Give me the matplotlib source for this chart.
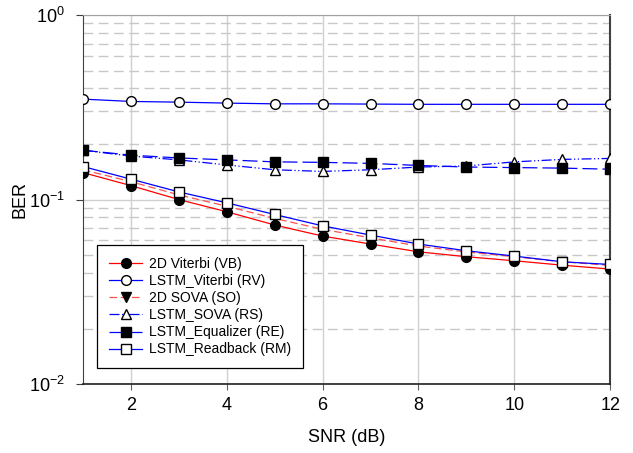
import numpy as np
import matplotlib
matplotlib.use("Agg")
import matplotlib.pyplot as plt
from matplotlib.ticker import LogLocator, NullFormatter, FixedLocator

plt.rcParams["font.family"] = ["Liberation Sans", "DejaVu Sans"]
plt.rcParams["mathtext.fontset"] = "custom"
plt.rcParams["mathtext.rm"] = "Liberation Sans"
plt.rcParams["mathtext.it"] = "Liberation Sans:italic"
plt.rcParams["mathtext.bf"] = "Liberation Sans:bold"

snr = [1, 2, 3, 4, 5, 6, 7, 8, 9, 10, 11, 12]
ber_vb = [0.140, 0.119, 0.100, 0.0859, 0.0728, 0.0634, 0.0574, 0.0521, 0.0490, 0.0466, 0.0441, 0.0420]
ber_rv = [0.350, 0.340, 0.337, 0.333, 0.330, 0.330, 0.329, 0.328, 0.328, 0.328, 0.328, 0.328]
ber_so = [0.145, 0.125, 0.106, 0.092, 0.079, 0.069, 0.062, 0.056, 0.052, 0.049, 0.046, 0.044]
ber_rs = [0.185, 0.172, 0.164, 0.154, 0.145, 0.142, 0.145, 0.150, 0.152, 0.160, 0.165, 0.167]
ber_re = [0.185, 0.174, 0.168, 0.164, 0.160, 0.159, 0.157, 0.153, 0.150, 0.149, 0.148, 0.146]
ber_rm = [0.151, 0.129, 0.110, 0.096, 0.083, 0.072, 0.0642, 0.0574, 0.0528, 0.0494, 0.0460, 0.0445]

fig = plt.figure(figsize=(6.33, 4.53), dpi=100)
ax = fig.add_axes([0.131, 0.152, 0.833, 0.815])

ms = 7
ax.plot(snr, ber_vb, "-", color="#ff0000", lw=0.9, marker="o", ms=ms,
        mfc="black", mec="black", label="2D Viterbi (VB)", zorder=3)
ax.plot(snr, ber_rv, "-", color="#0000ff", lw=0.9, marker="o", ms=ms,
        mfc="white", mec="black", label="LSTM_Viterbi (RV)", zorder=3)
ax.plot(snr, ber_so, color="#ff5050", lw=0.9, ls=(0, (6, 3)), marker="v", ms=ms,
        mfc="black", mec="black", label="2D SOVA (SO)", zorder=2)
ax.plot(snr, ber_rs, color="#0000ff", lw=0.9, ls=(0, (8, 2, 1, 2, 1, 2)), marker="^",
        ms=ms, mfc="white", mec="black", label="LSTM_SOVA (RS)", zorder=3)
ax.plot(snr, ber_re, color="#0000ff", lw=0.9, ls=(0, (12, 4)), marker="s", ms=ms - 0.5,
        mfc="black", mec="black", label="LSTM_Equalizer (RE)", zorder=3)
ax.plot(snr, ber_rm, "-", color="#0000ff", lw=0.9, marker="s", ms=ms - 0.5,
        mfc="white", mec="black", label="LSTM_Readback (RM)", zorder=3)

ax.set_yscale("log")
ax.set_ylim(1e-2, 1)
ax.set_xlim(1, 12)
ax.xaxis.set_major_locator(FixedLocator([2, 4, 6, 8, 10, 12]))
ax.yaxis.set_major_locator(LogLocator(base=10, numticks=5))
ax.yaxis.set_minor_locator(LogLocator(base=10, subs=np.arange(2, 10), numticks=20))
ax.yaxis.set_minor_formatter(NullFormatter())

ax.grid(True, which="major", axis="both", color="#d0d0d0", lw=1.0, ls="-", zorder=0)
ax.grid(True, which="minor", axis="y", color="#c8c8c8", lw=1.0, ls=(0, (7, 4)), zorder=0)
ax.set_axisbelow(True)

ax.tick_params(axis="x", which="major", direction="out", length=4, labelsize=13, pad=5,
               color="#606060")
ax.tick_params(axis="y", which="major", direction="out", length=5, labelsize=13, pad=8,
               color="#404040")
ax.tick_params(axis="y", which="minor", length=0)

ax.spines["top"].set_color("#a0a0a0")
ax.spines["right"].set_color("#404040")
ax.spines["right"].set_linewidth(1.5)
ax.spines["left"].set_color("#404040")
ax.spines["bottom"].set_color("#202020")
ax.spines["bottom"].set_linewidth(1.2)

ax.set_xlabel("SNR (dB)", fontsize=13, labelpad=11)
ax.set_ylabel("BER", fontsize=13, labelpad=0)

leg = ax.legend(loc="lower left", bbox_to_anchor=(0.027, 0.043), borderaxespad=0,
                fontsize=10, frameon=True, fancybox=False, edgecolor="black",
                framealpha=1, handlelength=2.4, labelspacing=0.22, borderpad=0.85,
                handletextpad=0.5)
leg.get_frame().set_linewidth(0.9)

fig.savefig("out.png", dpi=100)
